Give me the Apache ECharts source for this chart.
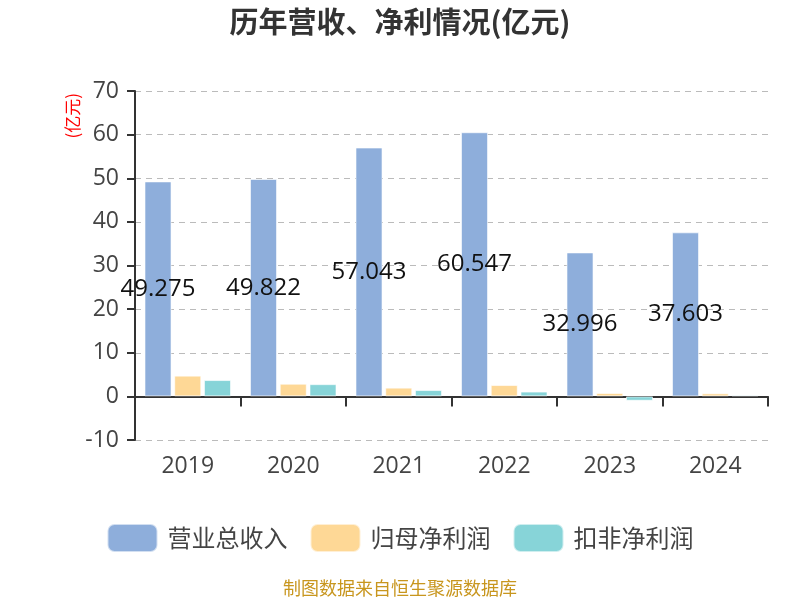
<!DOCTYPE html>
<html>
<head>
<meta charset="utf-8">
<script src="https://cdn.jsdelivr.net/npm/echarts@6/dist/echarts.min.js"></script>
<style>
  html, body { margin: 0; padding: 0; background: #fff; }
  #chart { width: 800px; height: 600px; }
</style>
</head>
<body>
<div id="chart"></div>
<script>
var years = ['2019', '2020', '2021', '2022', '2023', '2024'];
var revenue = [49.275, 49.822, 57.043, 60.547, 32.996, 37.603];
var netProfit = [4.75, 2.9, 2.0, 2.6, 0.77, 0.7];
var deductedProfit = [3.74, 2.8, 1.45, 1.1, -1.0, 0.3];
var yTicks = [-10, 0, 10, 20, 30, 40, 50, 60, 70];

var myChart = echarts.init(document.getElementById('chart'));
var font = '"Open Sans", "Noto Sans CJK SC", sans-serif';
var cjk = '"Noto Sans CJK SC", sans-serif';

myChart.setOption({
  color: ['#8eaedb', '#fed896', '#87d4d8'],
  textStyle: { fontFamily: font },
  title: {
    text: '历年营收、净利情况(亿元)',
    left: 'center',
    top: 2,
    textStyle: { fontSize: 29, fontWeight: 'bold', color: '#333', fontFamily: cjk }
  },
  legend: {
    top: 518,
    left: 'center',
    itemWidth: 50,
    itemHeight: 28,
    itemGap: 22,
    textStyle: { fontSize: 24, color: '#444', fontFamily: cjk, padding: [0, 0, 0, 5] },
    data: ['营业总收入', '归母净利润', '扣非净利润']
  },
  grid: { left: 135, right: 32, top: 91, bottom: 160 },
  graphic: [
    {
      type: 'text',
      left: 64,
      top: 93,
      rotation: Math.PI / 2,
      style: { text: '(亿元)', fill: '#ff0000', fontSize: 17, fontFamily: cjk }
    },
    {
      type: 'text',
      left: 'center',
      top: 579,
      style: { text: '制图数据来自恒生聚源数据库', fill: '#c8961e', fontSize: 18, fontFamily: cjk }
    }
  ],
  xAxis: {
    type: 'category',
    data: years,
    axisLine: { onZero: true, lineStyle: { color: '#333', width: 2 } },
    axisTick: { show: true, length: 10, lineStyle: { color: '#333', width: 2 } },
    axisLabel: { fontSize: 23, color: '#444', margin: 15 }
  },
  yAxis: {
    type: 'value',
    min: yTicks[0],
    max: yTicks[yTicks.length - 1],
    interval: 10,
    axisLine: { show: true, lineStyle: { color: '#333', width: 2 } },
    axisTick: { show: true, length: 8, lineStyle: { color: '#333', width: 2 } },
    axisLabel: { fontSize: 23, color: '#444', margin: 16 },
    splitLine: { lineStyle: { type: [6, 5], color: '#bbb', width: 1.2 } }
  },
  series: [
    {
      name: '营业总收入',
      type: 'bar',
      barGap: '10%',
      barCategoryGap: '18%',
      data: revenue,
      itemStyle: { borderColor: 'rgba(255,255,255,0.6)', borderWidth: 1 },
      label: { show: true, position: 'inside', fontSize: 24, color: '#111', formatter: function (p) { return p.value.toFixed(3); } }
    },
    {
      name: '归母净利润',
      type: 'bar',
      data: netProfit,
      itemStyle: { borderColor: 'rgba(255,255,255,0.6)', borderWidth: 1 }
    },
    {
      name: '扣非净利润',
      type: 'bar',
      data: deductedProfit,
      itemStyle: { borderColor: 'rgba(255,255,255,0.6)', borderWidth: 1 }
    }
  ]
});
</script>
</body>
</html>
